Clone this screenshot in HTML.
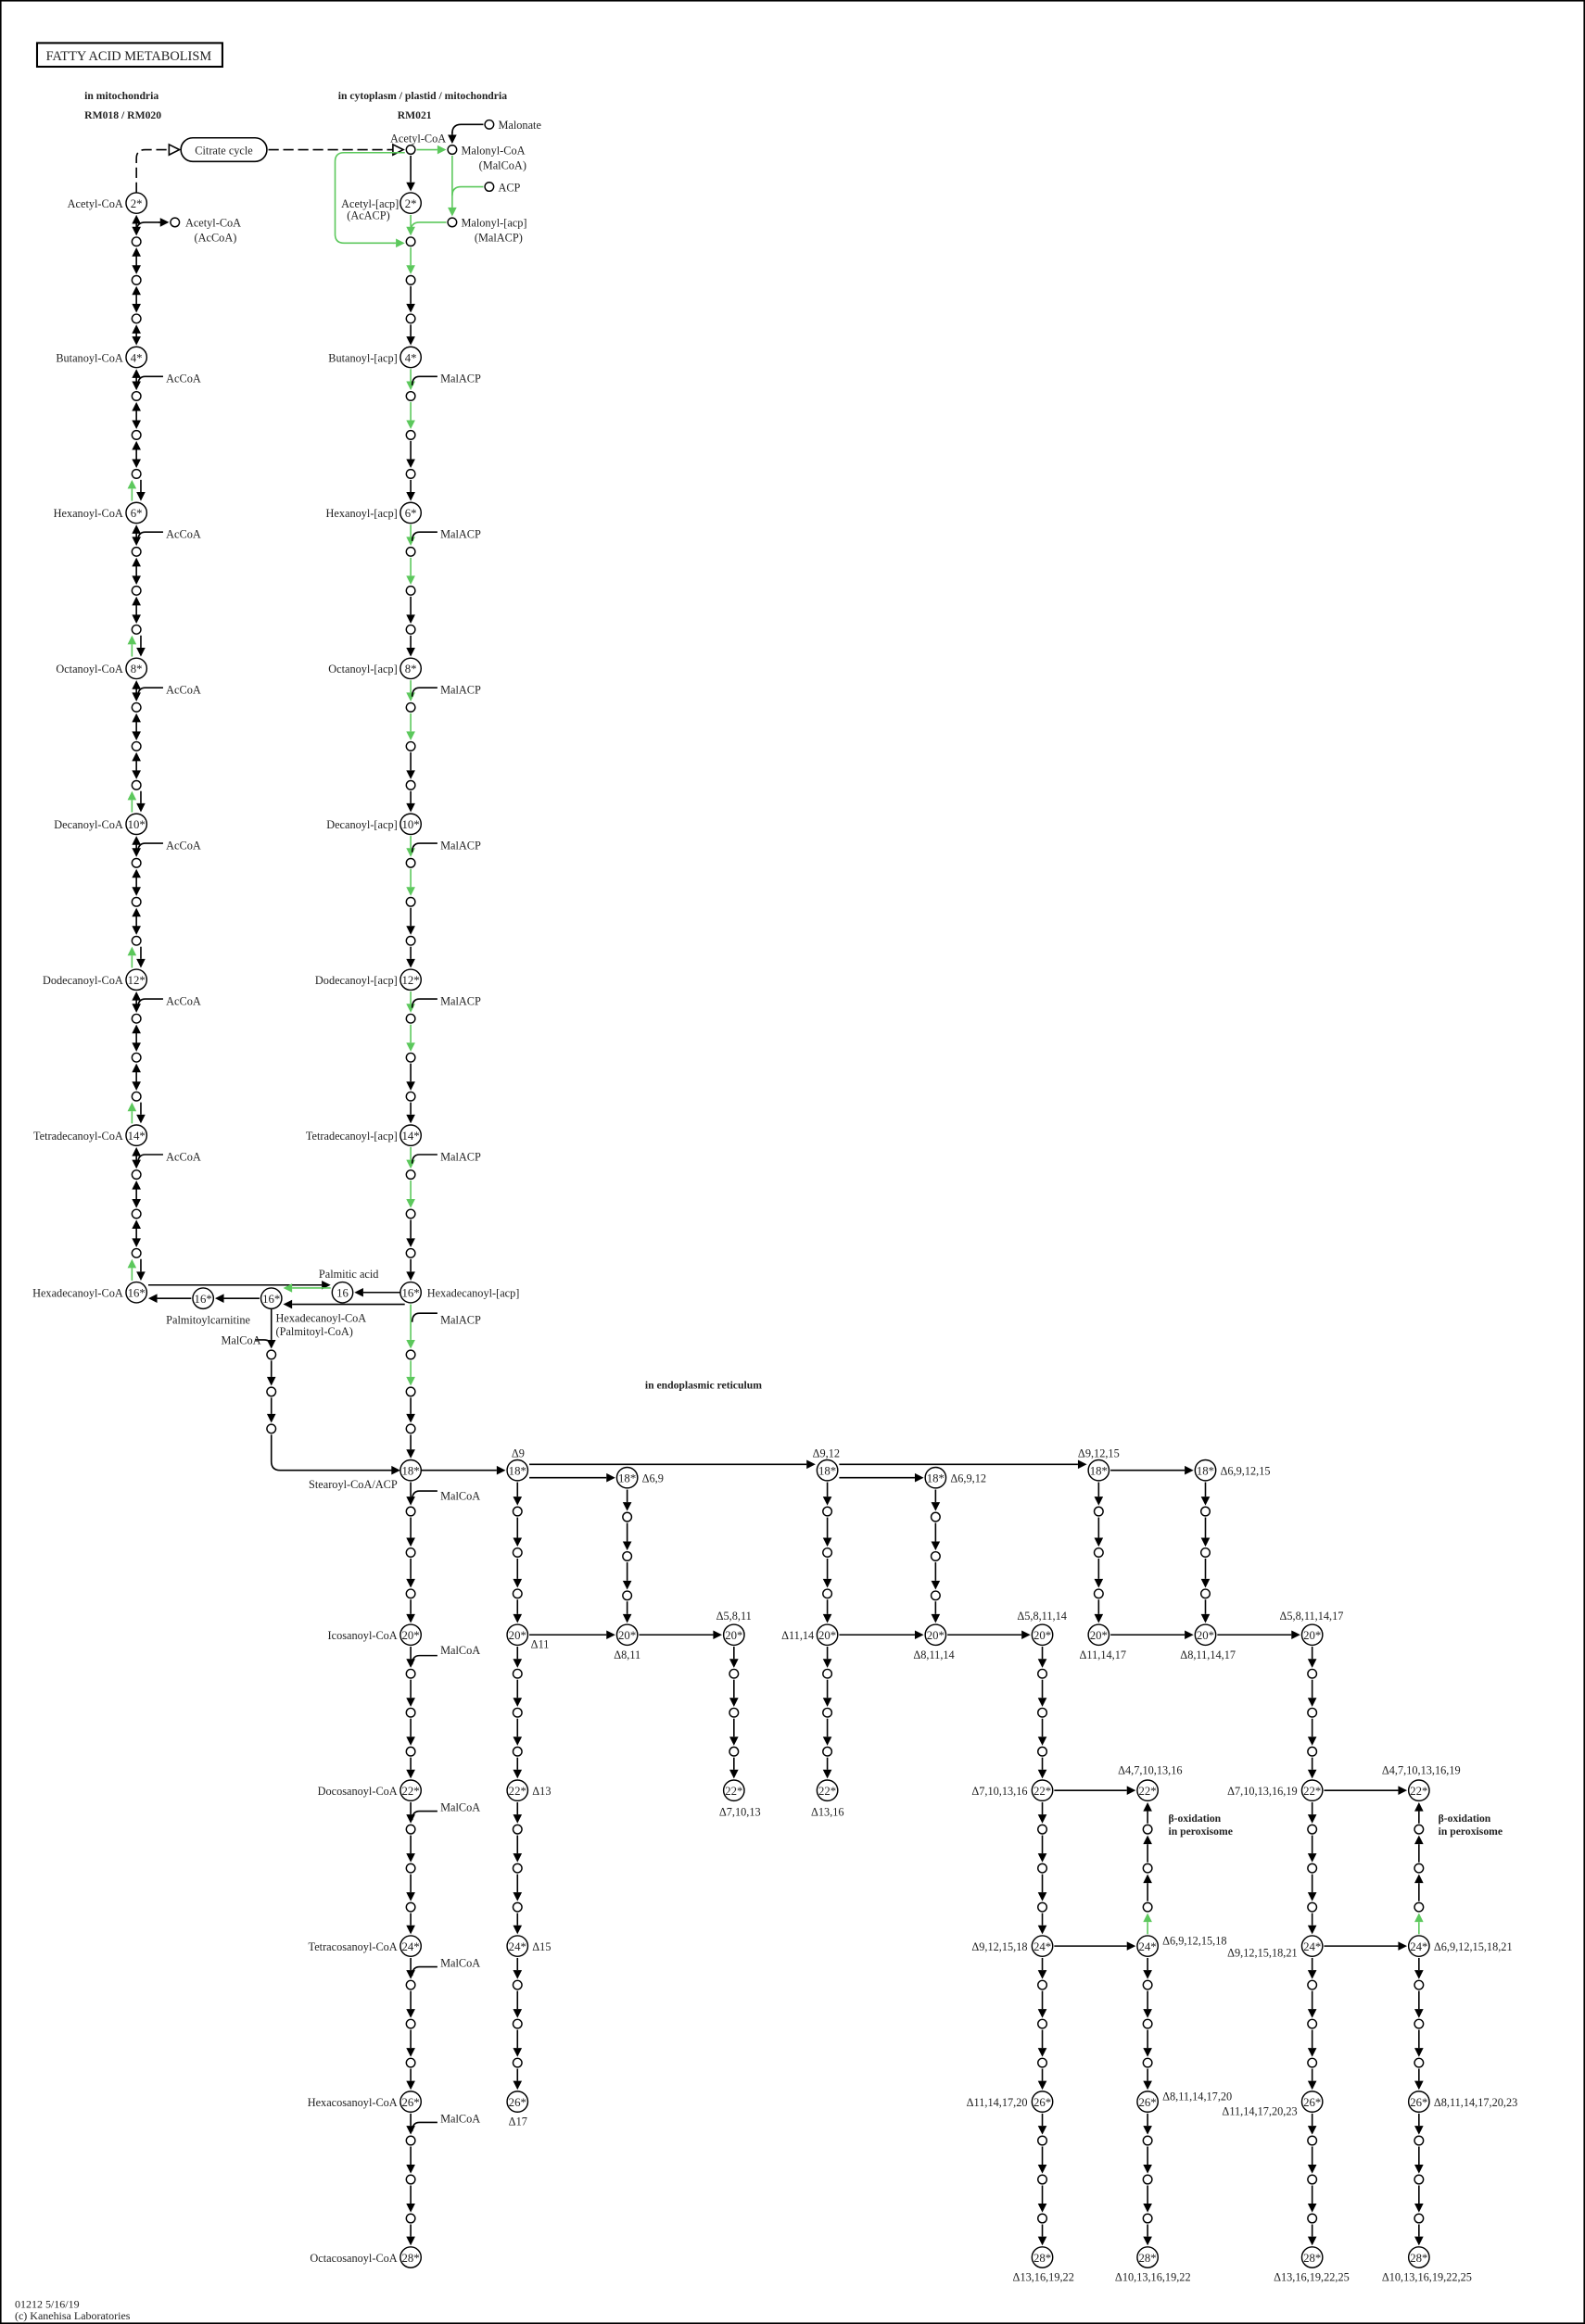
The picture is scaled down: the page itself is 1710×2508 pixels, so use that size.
<!DOCTYPE html>
<html><head><meta charset="utf-8"><style>
html,body{margin:0;padding:0;background:#fff;}
svg{display:block;}
text{font-family:"Liberation Serif",serif;font-size:7.7px;fill:#222;}
.b{font-weight:bold;font-size:7.3px;}
</style></head><body>
<svg id="s" width="1710" height="2508" viewBox="0 0 1069 1568" preserveAspectRatio="none" xmlns="http://www.w3.org/2000/svg">
<rect x="0.5" y="0.5" width="1068" height="1567" fill="#fff" stroke="#000" stroke-width="1"/>
<g id="g"></g>
<rect x="25" y="29" width="125" height="16" fill="none" stroke="#000" stroke-width="1.3"/>
<text x="31" y="40.5" style="font-size:9px">FATTY  ACID  METABOLISM</text>
<text class="b" x="57" y="67">in mitochondria</text>
<text class="b" x="57" y="80">RM018 / RM020</text>
<text class="b" x="228" y="67">in cytoplasm / plastid / mitochondria</text>
<text class="b" x="268" y="80">RM021</text>
<text class="b" x="435" y="937">in endoplasmic reticulum</text>
<text class="b" x="788" y="1229">β-oxidation</text>
<text class="b" x="788" y="1238">in peroxisome</text>
<text class="b" x="970" y="1229">β-oxidation</text>
<text class="b" x="970" y="1238">in peroxisome</text>
<text x="151" y="104" text-anchor="middle">Citrate cycle</text>
<text x="282" y="96" text-anchor="middle">Acetyl-CoA</text>
<text x="336" y="87">Malonate</text>
<text x="311" y="104">Malonyl-CoA</text>
<text x="323" y="114">(MalCoA)</text>
<text x="336" y="129">ACP</text>
<text x="311" y="153">Malonyl-[acp]</text>
<text x="320" y="163">(MalACP)</text>
<text x="125" y="153">Acetyl-CoA</text>
<text x="131" y="163">(AcCoA)</text>
<g text-anchor="end">
<text x="269" y="140">Acetyl-[acp]</text>
<text x="263" y="148">(AcACP)</text>
<text x="83" y="140">Acetyl-CoA</text>
<text x="83" y="244">Butanoyl-CoA</text>
<text x="83" y="349">Hexanoyl-CoA</text>
<text x="83" y="454">Octanoyl-CoA</text>
<text x="83" y="559">Decanoyl-CoA</text>
<text x="83" y="664">Dodecanoyl-CoA</text>
<text x="83" y="769">Tetradecanoyl-CoA</text>
<text x="83" y="875">Hexadecanoyl-CoA</text>
<text x="268" y="244">Butanoyl-[acp]</text>
<text x="268" y="349">Hexanoyl-[acp]</text>
<text x="268" y="454">Octanoyl-[acp]</text>
<text x="268" y="559">Decanoyl-[acp]</text>
<text x="268" y="664">Dodecanoyl-[acp]</text>
<text x="268" y="769">Tetradecanoyl-[acp]</text>
<text x="268" y="1004">Stearoyl-CoA/ACP</text>
<text x="268" y="1106">Icosanoyl-CoA</text>
<text x="268" y="1211">Docosanoyl-CoA</text>
<text x="268" y="1316">Tetracosanoyl-CoA</text>
<text x="268" y="1421">Hexacosanoyl-CoA</text>
<text x="268" y="1526">Octacosanoyl-CoA</text>
<text x="176" y="907">MalCoA</text>
<text x="549" y="1106">Δ11,14</text>
<text x="693" y="1211">Δ7,10,13,16</text>
<text x="693" y="1316">Δ9,12,15,18</text>
<text x="693" y="1421">Δ11,14,17,20</text>
<text x="875" y="1211">Δ7,10,13,16,19</text>
<text x="875" y="1320">Δ9,12,15,18,21</text>
<text x="875" y="1427">Δ11,14,17,20,23</text>
</g>
<g>
<text x="112" y="258">AcCoA</text><text x="112" y="363">AcCoA</text><text x="112" y="468">AcCoA</text>
<text x="112" y="573">AcCoA</text><text x="112" y="678">AcCoA</text><text x="112" y="783">AcCoA</text>
<text x="297" y="258">MalACP</text><text x="297" y="363">MalACP</text><text x="297" y="468">MalACP</text>
<text x="297" y="573">MalACP</text><text x="297" y="678">MalACP</text><text x="297" y="783">MalACP</text>
<text x="297" y="893">MalACP</text>
<text x="297" y="1012">MalCoA</text><text x="297" y="1116">MalCoA</text><text x="297" y="1222">MalCoA</text>
<text x="297" y="1327">MalCoA</text><text x="297" y="1432">MalCoA</text>
<text x="288" y="875">Hexadecanoyl-[acp]</text>
<text x="215" y="862">Palmitic acid</text>
<text x="112" y="893">Palmitoylcarnitine</text>
<text x="186" y="892">Hexadecanoyl-CoA</text>
<text x="186" y="901">(Palmitoyl-CoA)</text>
<text x="345" y="983">Δ9</text>
<text x="433" y="1000">Δ6,9</text>
<text x="358" y="1112">Δ11</text>
<text x="414" y="1119">Δ8,11</text>
<text x="483" y="1093">Δ5,8,11</text>
<text x="485" y="1225">Δ7,10,13</text>
<text x="359" y="1211">Δ13</text>
<text x="359" y="1316">Δ15</text>
<text x="343" y="1434">Δ17</text>
<text x="548" y="983">Δ9,12</text>
<text x="641" y="1000">Δ6,9,12</text>
<text x="547" y="1225">Δ13,16</text>
<text x="616" y="1119">Δ8,11,14</text>
<text x="686" y="1093">Δ5,8,11,14</text>
<text x="754" y="1197">Δ4,7,10,13,16</text>
<text x="784" y="1312">Δ6,9,12,15,18</text>
<text x="784" y="1417">Δ8,11,14,17,20</text>
<text x="683" y="1539">Δ13,16,19,22</text>
<text x="752" y="1539">Δ10,13,16,19,22</text>
<text x="727" y="983">Δ9,12,15</text>
<text x="823" y="995">Δ6,9,12,15</text>
<text x="728" y="1119">Δ11,14,17</text>
<text x="796" y="1119">Δ8,11,14,17</text>
<text x="863" y="1093">Δ5,8,11,14,17</text>
<text x="932" y="1197">Δ4,7,10,13,16,19</text>
<text x="967" y="1316">Δ6,9,12,15,18,21</text>
<text x="967" y="1421">Δ8,11,14,17,20,23</text>
<text x="859" y="1539">Δ13,16,19,22,25</text>
<text x="932" y="1539">Δ10,13,16,19,22,25</text>
<text x="10" y="1557" style="font-size:7.5px">01212 5/16/19</text>
<text x="10" y="1565" style="font-size:7.5px">(c) Kanehisa Laboratories</text>
</g>
</svg>
<script>
var G=document.getElementById('g'),NS='http://www.w3.org/2000/svg',K='#000',GR='#5cc85c';
function el(t,a,txt){var e=document.createElementNS(NS,t);for(var k in a)e.setAttribute(k,a[k]);if(txt)e.textContent=txt;G.appendChild(e);return e;}
function head(x1,y1,x2,y2,c){var dx=x2-x1,dy=y2-y1,L=Math.hypot(dx,dy),ux=dx/L,uy=dy/L,bx=x2-6*ux,by=y2-6*uy,px=-uy*3,py=ux*3;
el('polygon',{points:x2+','+y2+' '+(bx+px)+','+(by+py)+' '+(bx-px)+','+(by-py),fill:c});return [bx,by];}
function arr(x1,y1,x2,y2,c){c=c||K;var b=head(x1,y1,x2,y2,c);el('line',{x1:x1,y1:y1,x2:b[0],y2:b[1],stroke:c,'stroke-width':1});}
function dbl(x,y1,y2){head(x,y2,x,y1,K);head(x,y1,x,y2,K);el('line',{x1:x,y1:y1+5,x2:x,y2:y2-5,stroke:K});}
function path(d,c,dash){var a={d:d,fill:'none',stroke:c||K,'stroke-width':1};if(dash)a['stroke-dasharray']=dash;el('path',a);}
var nodes=[];
function big(x,y,l){nodes.push(['b',x,y,l]);}
function sm(x,y){nodes.push(['s',x,y]);}
function seq(y0,y1){var d=(y1-y0)/4;return [y0,y0+d,y0+2*d,y0+3*d,y1];}
function chain(x,pts,types,bigs){for(var i=0;i<pts.length;i++){if(bigs[i])big(x,pts[i],bigs[i]);else sm(x,pts[i]);}
for(var j=0;j<pts.length-1;j++){var ra=bigs[j]?7:3,rb=bigs[j+1]?7:3,a=pts[j]+ra+1,b=pts[j+1]-rb-1,t=types[j];
if(t=='k')arr(x,a,x,b,K);else if(t=='g')arr(x,a,x,b,GR);else if(t=='u')arr(x,b,x,a,K);else if(t=='ug')arr(x,b,x,a,GR);
else if(t=='d')dbl(x,a,b);else if(t=='gd'){arr(x-3,b,x-3,a,GR);arr(x+3,a,x+3,b,K);}}}
var M=[137,241,346,451,556,661,766,872];
var lab=['2*','4*','6*','8*','10*','12*','14*','16*'];
for(var i=0;i<7;i++){var p=seq(M[i],M[i+1]);
 var tA=i==0?['d','d','d','d']:['d','d','d','gd'];
 chain(92,p,tA,[lab[i],0,0,0,lab[i+1]]);
 chain(277,p,['g','g','k','k'],[lab[i],0,0,0,lab[i+1]]);
 if(i>=1){var y=M[i];path('M110,'+(y+13)+' L98,'+(y+13)+' Q93,'+(y+13)+' 93,'+(y+19));
  path('M295,'+(y+13)+' L283,'+(y+13)+' Q278,'+(y+13)+' 278,'+(y+19));}
}
path('M92,130 L92,107 Q92,101 98,101 L114,101',K,'7,3');
el('polygon',{points:'114,97.5 121,101 114,104.5',fill:'#fff',stroke:K});
el('rect',{x:122,y:93,width:58,height:16,rx:8,fill:'#fff',stroke:K});
path('M181,101 L265,101',K,'7,3');
el('polygon',{points:'265,97.5 272,101 265,104.5',fill:'#fff',stroke:K});
sm(277,101);sm(305,101);sm(330,84);sm(330,126);sm(305,150);sm(118,150);
path('M92,156 Q92,150 98,150 L108,150');arr(107,150,114,150,K);
arr(277,105,277,129,K);
arr(281,101,301,101,GR);
path('M326,84 L311,84 Q305,84 305,90');arr(305,89,305,97,K);
arr(305,105,305,146,GR);
path('M326,126 L311,126 Q305,126 305,132',GR);
path('M301,150 L283,150 Q277,150 277,156',GR);
path('M273,103 L232,103 Q226,103 226,109 L226,158 Q226,164 232,164 L266,164',GR);arr(265,164,273,164,GR);
big(137,876,'16*');big(183,876,'16*');big(231,872,'16');
arr(100,867,223,867,K);arr(270,872,239,872,K);arr(223,869,191,869,GR);
arr(273,880,191,880,K);arr(175,876,145,876,K);arr(129,876,100,876,K);
chain(277,[872,914,939,964,992],['g','g','k','k'],['16*',0,0,0,'18*']);
path('M295,886 L283,886 Q278,886 278,892');
chain(183,[876,914,939,964],['k','k','k'],[0,0,0,0]);
nodes=nodes.filter(function(n){return !(n[0]=='s'&&n[1]==183&&n[2]==876);});
path('M172,904 L178,904 Q183,904 183,909');
path('M183,968 L183,986 Q183,992 189,992 L265,992');arr(264,992,270,992,K);
var M2=[992,1103,1208,1313,1418,1523],L2=['18*','20*','22*','24*','26*','28*'];
for(var i=0;i<5;i++){chain(277,seq(M2[i],M2[i+1]),['k','k','k','k'],[L2[i],0,0,0,L2[i+1]]);
 var y=M2[i];path('M295,'+(y+14)+' L283,'+(y+14)+' Q278,'+(y+14)+' 278,'+(y+20));}
function col(x,ys,ls){for(var i=0;i<ys.length-1;i++)chain(x,seq(ys[i],ys[i+1]),['k','k','k','k'],[ls[i],0,0,0,ls[i+1]]);}
col(349,[992,1103,1208,1313,1418],['18*','20*','22*','24*','26*']);
col(423,[997,1103],['18*','20*']);
col(495,[1103,1208],['20*','22*']);
col(558,[992,1103,1208],['18*','20*','22*']);
col(631,[997,1103],['18*','20*']);
col(703,[1103,1208,1313,1418,1523],['20*','22*','24*','26*','28*']);
col(741,[992,1103],['18*','20*']);
col(813,[992,1103],['18*','20*']);
col(885,[1103,1208,1313,1418,1523],['20*','22*','24*','26*','28*']);
[774,957].forEach(function(x){chain(x,seq(1208,1313),['u','u','u','ug'],['22*',0,0,0,'24*']);
 col(x,[1313,1418,1523],['24*','26*','28*']);});
arr(284,992,341,992);arr(357,988,550,988);arr(357,997,415,997);arr(357,1103,415,1103);arr(431,1103,487,1103);
arr(566,988,733,988);arr(566,997,623,997);arr(566,1103,623,1103);arr(639,1103,695,1103);
arr(711,1208,766,1208);arr(711,1313,766,1313);
arr(749,992,805,992);arr(749,1103,805,1103);arr(821,1103,877,1103);
arr(893,1208,949,1208);arr(893,1313,949,1313);
var seen={};nodes.forEach(function(n){var k=n[1]+','+n[2];if(seen[k])return;seen[k]=1;
 if(n[0]=='b'){el('circle',{cx:n[1],cy:n[2],r:7,fill:'#fff',stroke:K,'stroke-width':0.9});
  el('text',{x:n[1],y:n[2]+3,'text-anchor':'middle',style:'font-size:8px'},n[3]);}
 else el('circle',{cx:n[1],cy:n[2],r:3,fill:'#fff',stroke:K,'stroke-width':0.9});});
</script>
</body></html>
